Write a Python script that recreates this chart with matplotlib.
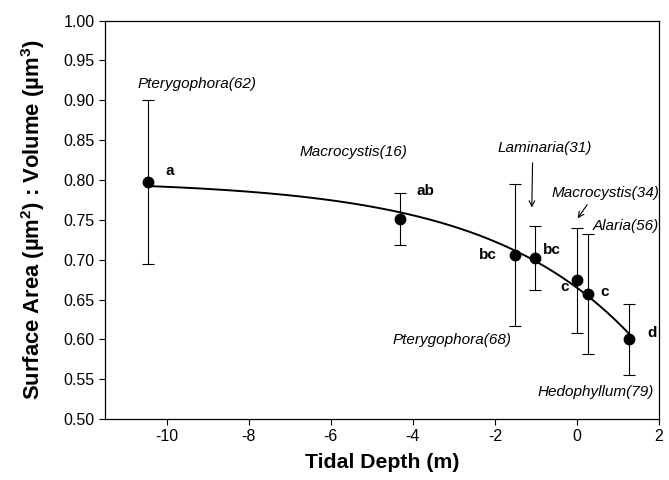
import numpy as np
import matplotlib
matplotlib.use("Agg")
import matplotlib.pyplot as plt

plt.rcParams['font.family'] = ['Liberation Sans', 'DejaVu Sans']
plt.rcParams['mathtext.fontset'] = 'custom'
plt.rcParams['mathtext.rm'] = 'Liberation Sans'
plt.rcParams['mathtext.bf'] = 'Liberation Sans:bold'
plt.rcParams['mathtext.it'] = 'Liberation Sans:italic'

# Data
depth = [-10.46, -4.32, -1.51, -1.01, 0.0, 0.27, 1.28]
sav = [0.797, 0.751, 0.706, 0.702, 0.674, 0.657, 0.600]
err = [0.103, 0.033, 0.089, 0.040, 0.066, 0.075, 0.045]
species = ['Pterygophora(62)', 'Macrocystis(16)', 'Pterygophora(68)', 'Laminaria(31)',
           'Macrocystis(34)', 'Alaria(56)', 'Hedophyllum(79)']
groups = ['a', 'ab', 'bc', 'bc', 'c', 'c', 'd']
xticks = [-10, -8, -6, -4, -2, 0, 2]
yticks = [0.50, 0.55, 0.60, 0.65, 0.70, 0.75, 0.80, 0.85, 0.90, 0.95, 1.00]

fig = plt.figure(figsize=(6.69, 4.8), dpi=100)
ax = fig.add_axes([0.157, 0.127, 0.828, 0.830])

x = np.array(depth)
y = np.array(sav)

# exponential regression y = a - b*exp(k x), fitted to the points
best = None
for k in np.linspace(0.05, 1.0, 400):
    A = np.column_stack([np.ones_like(x), -np.exp(k * x)])
    coef, res, *_ = np.linalg.lstsq(A, y, rcond=None)
    r = np.sum((A @ coef - y) ** 2)
    if best is None or r < best[0]:
        best = (r, k, coef)
_, kk, (aa, bb) = best
xs = np.linspace(x.min(), x.max(), 200)
ax.plot(xs, aa - bb * np.exp(kk * xs), color='black', lw=1.4, zorder=2)

ax.errorbar(depth, sav, yerr=err, fmt='o', color='black', ms=7.5,
            ecolor='black', elinewidth=0.8, capsize=4, capthick=0.8, zorder=3)

# species labels
sp_pos = [(-9.27, 0.921, 'center'), (-5.44, 0.835, 'center'), (-3.05, 0.599, 'center'),
          (-0.78, 0.840, 'center'), (2.0, 0.784, 'right'), (2.0, 0.742, 'right'),
          (0.47, 0.534, 'center')]
for name, (px, py, ha) in zip(species, sp_pos):
    ax.text(px, py, name, style='italic', fontsize=11, ha=ha, va='center')

grp_pos = [(-9.93, 0.811, 'center'), (-3.68, 0.786, 'center'), (-2.16, 0.706, 'center'),
           (-0.60, 0.712, 'center'), (-0.30, 0.666, 'center'), (0.68, 0.660, 'center'),
           (1.83, 0.608, 'center')]
for g, (px, py, ha) in zip(groups, grp_pos):
    ax.text(px, py, g, fontweight='bold', fontsize=11, ha=ha, va='center')

# arrows
ax.annotate('', xy=(-1.10, 0.762), xytext=(-1.08, 0.825),
            arrowprops=dict(arrowstyle='->', color='black', lw=0.8))
ax.annotate('', xy=(-0.02, 0.749), xytext=(0.29, 0.772),
            arrowprops=dict(arrowstyle='->', color='black', lw=0.8))

ax.set_xlim(-11.5, 2)
ax.set_ylim(0.5, 1.0)
ax.set_xticks(xticks)
ax.set_xticklabels([str(t) for t in xticks])
ax.set_yticks(yticks)
ax.set_yticklabels([f'{t:.2f}' for t in yticks])
ax.tick_params(direction='out', length=4, width=0.8, labelsize=11.5, top=False, right=False)
for s in ax.spines.values():
    s.set_linewidth(0.9)

ax.set_xlabel('Tidal Depth (m)', fontsize=15.3, fontweight='bold', labelpad=6)
ax.set_ylabel('Surface Area (\u00b5m$^{\\mathbf{2}}$) : Volume (\u00b5m$^{\\mathbf{3}}$)',
              fontsize=15.8, fontweight='bold', labelpad=12)

fig.savefig('out.png', dpi=100)
